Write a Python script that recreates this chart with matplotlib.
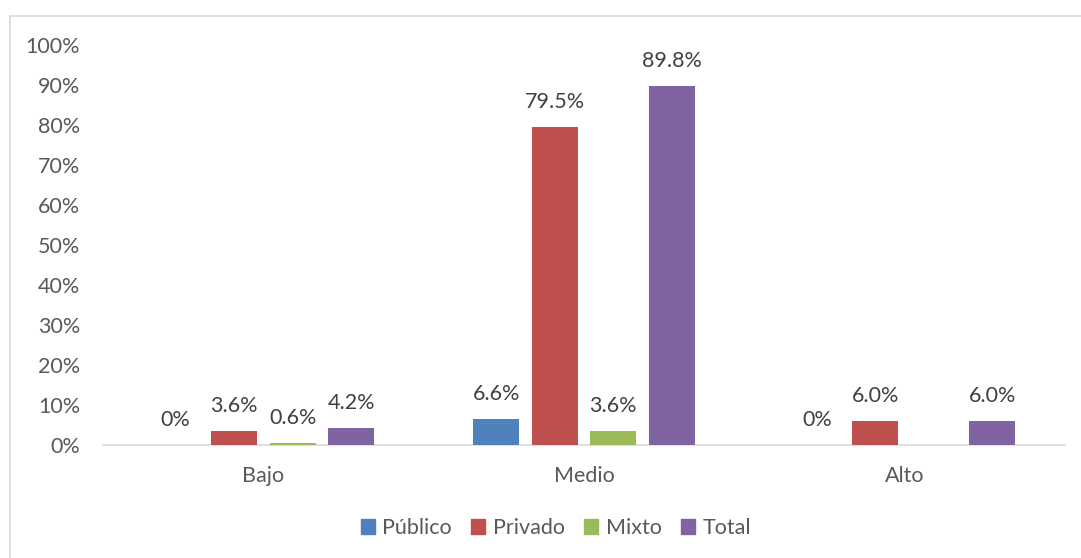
import numpy as np
import matplotlib.pyplot as plt
from matplotlib.lines import Line2D

categories = ["Bajo", "Medio", "Alto"]
series_names = ["Público", "Privado", "Mixto", "Total"]
publico = [0.0, 6.6, 0.0]
privado = [3.6, 79.5, 6.0]
mixto = [0.6, 3.6, np.nan]
total = [4.2, 89.8, 6.0]
yticks = [0, 10, 20, 30, 40, 50, 60, 70, 80, 90, 100]
colors = ["#4F81BD", "#C0504D", "#9BBB59", "#8064A2"]

plt.rcParams['font.family'] = ['Lato', 'DejaVu Sans']
txt = "#595959"
fs = 15.5
W, H = 1081, 558
fig = plt.figure(figsize=(W/100, H/100), dpi=100)
ax = fig.add_axes([103/W, 1-445/H, (1065-103)/W, 400/H])

series = [publico, privado, mixto, total]
x = np.arange(len(categories))
slot = 58.5/320.7
bw = 46/320.7
for i, (vals, c, name) in enumerate(zip(series, colors, series_names)):
    pos = x + (i-1.5)*slot
    ax.bar(pos, vals, width=bw, color=c, label=name, zorder=3)
    for p, v in zip(pos, vals):
        if np.isnan(v):
            continue
        lab = "0%" if v == 0 else f"{v:.1f}%"
        ax.annotate(lab, (p, v), xytext=(0, 18), textcoords='offset points',
                    ha='center', va='center', fontsize=fs, color="#404040")

ax.set_xlim(-0.5, 2.5)
ax.set_ylim(0, 100)
ax.set_yticks(yticks)
ax.set_yticklabels([f"{t}%" for t in yticks])
ax.set_xticks(x)
ax.set_xticklabels(categories)
for s in ["top", "right", "left"]:
    ax.spines[s].set_visible(False)
ax.spines["bottom"].set_color("#D9D9D9")
ax.spines["bottom"].set_linewidth(1.2)
ax.tick_params(axis='both', length=0, labelsize=fs, labelcolor=txt)
ax.tick_params(axis='y', pad=16.5)
ax.tick_params(axis='x', pad=15)

handles = [plt.Rectangle((0, 0), 1, 1, color=c) for c in colors]
fig.legend(handles, series_names, loc='center', bbox_to_anchor=(556/W, 1-528/H),
           ncol=4, frameon=False, fontsize=fs, labelcolor=txt,
           handlelength=0.65, handleheight=0.65, handletextpad=0.35, columnspacing=0.9)

fig.add_artist(Line2D([9.5/W, 9.5/W], [0, 1-15.5/H], transform=fig.transFigure, color="#D9D9D9", lw=1.2))
fig.add_artist(Line2D([9.5/W, 1], [1-15.5/H, 1-15.5/H], transform=fig.transFigure, color="#D9D9D9", lw=1.2))

fig.savefig("out.png", dpi=100)
